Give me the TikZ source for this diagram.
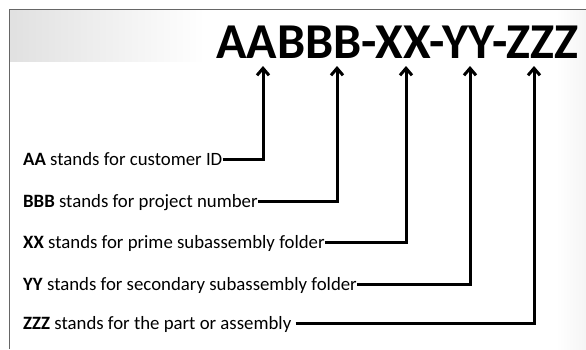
\documentclass[tikz,border=0pt]{standalone}
\usepackage{fontspec}
\setmainfont{Carlito}
\usetikzlibrary{arrows.meta}

\begin{document}
\begin{tikzpicture}[x=1pt, y=-1pt,
		desc/.style={anchor=west, inner sep=0pt, text height=12pt, text depth=0pt, font=\fontsize{18.8}{20}\selectfont},
		conn/.style={line width=3pt, -{Straight Barb[length=7pt, width=12pt]}}]
			\def\xtext{23}
			\def\ytip{66}
			\useasboundingbox (0,0) rectangle (586,349);
			
			% Draw background and frame
			\shade[left color=black!12, right color=white] (9,9) rectangle (205,61);
			\shade[left color=white, right color=black!4] (556,9) rectangle (586,349);
			\draw[black!60, line width=1pt] (9,349) -- (9,9) -- (586,9);
			
			% Draw title
			\node[anchor=base west, inner sep=0pt, font=\fontsize{50.2}{51}\bfseries\selectfont] (title) at (216,58) {AABBB-XX-YY-ZZZ};
			
			% Arrow tips under the title
			\coordinate (tipA) at (263,\ytip);
			\coordinate (tipB) at (337,\ytip);
			\coordinate (tipX) at (406,\ytip);
			\coordinate (tipY) at (470,\ytip);
			\coordinate (tipZ) at (534,\ytip);
			
			% Draw labels
			\node[desc] (aa) at (\xtext,159) {\textbf{AA} stands for customer ID};
			\node[desc] (bbb) at (\xtext,201) {\textbf{BBB} stands for project number};
			\node[desc] (xx) at (\xtext,242) {\textbf{XX} stands for prime subassembly folder};
			\node[desc] (yy) at (\xtext,284) {\textbf{YY} stands for secondary subassembly folder};
			\node[desc] (zzz) at (\xtext,323) {\textbf{ZZZ} stands for the part or assembly};
			
			% Draw connectors
			\draw[conn] (aa.east) -| (tipA);
			\draw[conn] (bbb.east) -| (tipB);
			\draw[conn] (xx.east) -| (tipX);
			\draw[conn] (yy.east) -| (tipY);
			\draw[conn] ([xshift=4pt]zzz.east) -| (tipZ);
	\end{tikzpicture}
\end{document}
